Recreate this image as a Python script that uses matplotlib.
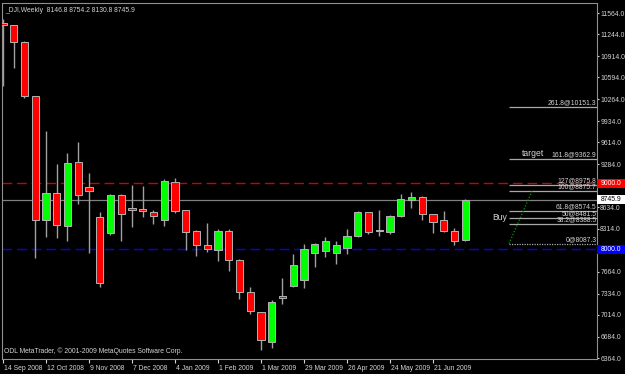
import matplotlib
matplotlib.use('Agg')
import matplotlib.pyplot as plt
import matplotlib.transforms as mtransforms
from matplotlib.patches import Rectangle
import numpy as np

# weekly candles, _DJI
opens  = [11416, 11383, 11127, 10313, 8445, 8851, 8354, 9319, 8937, 8490,
          8248, 8821, 8630, 8615, 8570, 8445, 9012, 8590, 8279, 8068,
          7992, 8279, 7842, 7360, 7053, 6611, 7299, 7450, 7540, 7943,
          7977, 7952, 8027, 8203, 8560, 8279, 8268, 8500, 8746, 8796,
          8530, 8445, 8279, 8146.8]
highs  = [11480, 11390, 11140, 10320, 9786, 9288, 9454, 9620, 9153, 8565,
          8830, 8830, 8972, 8957, 8595, 9062, 9082, 8600, 8290, 8404,
          8309, 8309, 7850, 7440, 7060, 7239, 7566, 7932, 8078, 8090,
          8193, 8128, 8309, 8580, 8570, 8595, 8515, 8836, 8871, 8800,
          8535, 8580, 8329, 8754.2]
lows   = [10459, 10735, 10290, 7872, 8188, 8173, 8128, 8686, 7947, 7435,
          8218, 8128, 8344, 8490, 8384, 8354, 8555, 7992, 7897, 7958,
          7832, 7681, 7249, 7023, 6485, 6520, 7174, 7440, 7424, 7741,
          7891, 7782, 7928, 8190, 8233, 8208, 8233, 8490, 8621, 8445,
          8244, 8270, 8068, 8130.8]
closes = [11388, 11127, 10313, 8445, 8851, 8369, 9304, 8821, 8882, 7495,
          8821, 8535, 8595, 8585, 8510, 9032, 8585, 8268, 8063, 8003,
          8279, 7842, 7360, 7073, 6631, 7213, 7269, 7762, 8007, 8078,
          8128, 8068, 8203, 8570, 8268, 8279, 8510, 8767, 8796, 8530,
          8419, 8279, 8128, 8745.9]

date_idx = [0, 4, 8, 12, 16, 20, 24, 28, 32, 36, 40]
date_labels = ['14 Sep 2008', '12 Oct 2008', '9 Nov 2008', '7 Dec 2008', '4 Jan 2009',
               '1 Feb 2009', '1 Mar 2009', '29 Mar 2009', '26 Apr 2009', '24 May 2009',
               '21 Jun 2009']
price_ticks = [11564.0, 11244.0, 10914.0, 10594.0, 10264.0, 9934.0, 9614.0, 9284.0,
               8634.0, 8314.0, 7664.0, 7334.0, 7014.0, 6684.0, 6364.0]

fib_levels = [261.8, 161.8, 127, 100, 61.8, 50, 38.2, 0]
fib_prices = [10151.3, 9362.9, 8975.8, 8875.7, 8574.5, 8481.5, 8388.5, 8087.3]
fib_start = 47.07
fib_trend_x = [47.07, 49.2]
fib_trend_y = [8087.3, 8875.7]

red_line = 9000.0
blue_line = 8000.0
last_price = 8745.9

fg = '#d4d4d4'
fs = 4.9
plt.rcParams['font.family'] = ['Liberation Sans', 'DejaVu Sans']

fig = plt.figure(figsize=(6.25, 3.74), dpi=100, facecolor='black')
ax = fig.add_axes([2/625, 15/374, 595/625, 356/374], facecolor='black')

x = np.arange(len(opens))
o = np.array(opens); h = np.array(highs); l = np.array(lows); c = np.array(closes)

ax.axhline(red_line, color='#d00000', lw=1.0, dashes=(7, 3.5), zorder=1)
ax.axhline(blue_line, color='#0000ff', lw=1.0, dashes=(7, 3.5), zorder=1)
ax.axhline(last_price, color='#808080', lw=0.9, zorder=1)

ax.vlines(x, l, h, color='#a0a0a0', lw=1, zorder=2)
up = c > o
doji = c == o
cols = np.where(up, '#00ff00', '#ff0000')
cols = np.where(doji, '#ffffff', cols)
ax.bar(x, np.maximum(np.abs(c - o), 8), bottom=np.minimum(o, c), width=0.66,
       color=cols, edgecolor='#b4b4b4', lw=0.7, zorder=3)

# fibonacci expansion
for lev, p in zip(fib_levels, fib_prices):
    ls = (0, (1, 1)) if lev == 0 else '-'
    ax.hlines(p, fib_start, 60, color='#a8a8a8', lw=0.9, linestyles=ls, zorder=2)
    ax.text(55.2, p + 10, f'{lev:g}@{p:.1f}', color=fg, fontsize=fs, ha='right', va='bottom', zorder=4)
ax.plot(fib_trend_x, fib_trend_y, color='#00a000', lw=0.9, ls=(0, (1, 1.5)), zorder=2)
ax.text(48.3, 9440, 'target', color=fg, fontsize=6.2, ha='left', va='center')
ax.text(45.5, 8475, 'Buy', color=fg, fontsize=6.2, ha='left', va='center')

ax.set_xlim(-0.093, 55.26)
ax.set_ylim(6349, 11715)

ax.yaxis.tick_right()
ax.set_yticks(price_ticks)
ax.set_yticklabels([f'{v:.1f}' for v in price_ticks])
ax.tick_params(axis='y', colors=fg, labelsize=fs, length=1.5, width=0.8, pad=0.8)
ax.set_xticks(date_idx)
ax.set_xticklabels(date_labels, ha='left')
ax.tick_params(axis='x', colors=fg, labelsize=fs, length=3, width=0.8, pad=1.5)
shift = mtransforms.ScaledTranslation(1/100, 0, fig.dpi_scale_trans)
for lab in ax.get_xticklabels():
    lab.set_transform(lab.get_transform() + shift)
for s in ax.spines.values():
    s.set_color('#909090')
    s.set_linewidth(0.8)

trans = mtransforms.blended_transform_factory(ax.transAxes, ax.transData)
for val, bg, tc in [(red_line, '#ff0000', '#ffffff'), (blue_line, '#0000ff', '#ffffff'),
                    (last_price, '#ffffff', '#000000')]:
    ax.add_patch(Rectangle((1.0, val - 68), 28/595, 136, transform=trans, fc=bg, ec='none',
                           clip_on=False, zorder=5))
    ax.text(1.006, val, f'{val:.1f}', transform=trans, color=tc, fontsize=fs,
            ha='left', va='center', clip_on=False, zorder=6)

ax.text(0.006, 0.988, '_DJI,Weekly  8146.8 8754.2 8130.8 8745.9', transform=ax.transAxes,
        color=fg, fontsize=fs, ha='left', va='top')
ax.text(0.004, 0.012, 'ODL MetaTrader, \u00a9 2001-2009 MetaQuotes Software Corp.', transform=ax.transAxes,
        color=fg, fontsize=fs, ha='left', va='bottom')

fig.savefig('out.png', dpi=100, facecolor='black')
